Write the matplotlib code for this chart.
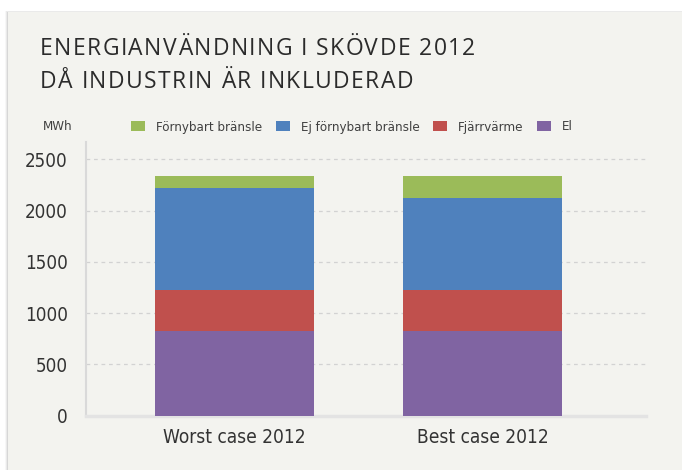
"""Energianvändning i Skövde 2012 — stacked bars, worst vs best case."""

import matplotlib.pyplot as plt
import numpy as np
from matplotlib.patches import Rectangle

categories = ['Worst case 2012', 'Best case 2012']
el = [830, 830]
fjarrvarme = [395, 395]
ej_fornybart = [1000, 900]
fornybart = [115, 210]

series_names = ['Förnybart bränsle', 'Ej förnybart bränsle', 'Fjärrvärme', 'El']
series_colors = ['#9bbb59', '#4f81bd', '#c0504d', '#8064a2']
yticks = [0, 500, 1000, 1500, 2000, 2500]

plt.rcParams['font.family'] = ['DejaVu Sans']
plt.rcParams['font.stretch'] = 'condensed'

W, H = 682, 470
fig = plt.figure(figsize=(W / 100, H / 100), dpi=100, facecolor='white')


def tracked_text(x_px, y_px, s, tracking=2.0, **kw):
    """Draw text letter by letter so it gets some extra letter spacing."""
    renderer = fig.canvas.get_renderer()
    x = x_px
    for ch in s:
        t = fig.text(x / W, 1 - y_px / H, ch, ha='left', va='center', **kw)
        if ch == ' ':
            wpx = t.get_fontsize() * 100 / 72 * 0.26
        else:
            wpx = t.get_window_extent(renderer).width
        x += wpx + tracking


# grey panel with a soft shadow on the left/top
for i, a in enumerate([0.03, 0.05, 0.08]):
    off = 3 - i
    fig.patches.append(Rectangle(((8 - off) / W, 0), 1, (H - 12 + off * 0.3) / H,
                                 transform=fig.transFigure, facecolor='black',
                                 alpha=a, edgecolor='none', zorder=-2))
fig.patches.append(Rectangle((8 / W, 0), 1, (H - 12) / H, transform=fig.transFigure,
                             facecolor='#f3f3ef', edgecolor='none', zorder=-1))

ax = fig.add_axes([86 / W, 1 - 415.7 / H, 560 / W, 274 / H])
ax.set_facecolor('none')

x = np.arange(len(categories))
width = 0.642
stack = [(el, series_colors[3], series_names[3]),
         (fjarrvarme, series_colors[2], series_names[2]),
         (ej_fornybart, series_colors[1], series_names[1]),
         (fornybart, series_colors[0], series_names[0])]
bottom = np.zeros(len(categories))
handles = {}
for vals, col, name in stack:
    b = ax.bar(x, vals, width, bottom=bottom, color=col, edgecolor='none', zorder=3)
    handles[name] = b
    bottom += np.array(vals)

ax.set_xlim(-0.60, 1.66)
ax.set_ylim(0, 2672)
ax.set_yticks(yticks)
ax.set_xticks(x)
ax.set_xticklabels(categories)
ax.tick_params(axis='y', length=0, pad=13, labelsize=13.5, labelcolor='#333333')
ax.tick_params(axis='x', length=0, pad=9, labelsize=13.7, labelcolor='#333333')

ax.grid(axis='y', color='#d2d2d2', linestyle=(0, (3, 3)), linewidth=0.9, zorder=1)
for s in ['top', 'right']:
    ax.spines[s].set_visible(False)
ax.spines['left'].set_color('#d9d9d9')
ax.spines['left'].set_linewidth(1.5)
ax.spines['bottom'].set_color('#e3e3e3')
ax.spines['bottom'].set_linewidth(2.5)

leg = ax.legend([handles[n] for n in series_names], series_names, ncol=4,
                loc='center left', bbox_to_anchor=(131 / W, 1 - 127 / H),
                bbox_transform=fig.transFigure, frameon=False, fontsize=9.5,
                handlelength=1.06, handleheight=0.76, handletextpad=0.85,
                columnspacing=1.0, borderpad=0, borderaxespad=0)
for t in leg.get_texts():
    t.set_color('#404040')

fig.text(42.7 / W, 1 - 127 / H, 'MWh', fontsize=9.5, color='#404040', va='center', ha='left')

tracked_text(40, 49, 'ENERGIANVÄNDNING I SKÖVDE 2012', tracking=1.4,
             fontsize=16.5, family='Open Sans', stretch='normal', color='#2b2b2b')
tracked_text(40, 81.5, 'DÅ INDUSTRIN ÄR INKLUDERAD', tracking=1.4,
             fontsize=16.5, family='Open Sans', stretch='normal', color='#2b2b2b')

fig.savefig('out.png', dpi=100, facecolor=fig.get_facecolor())
